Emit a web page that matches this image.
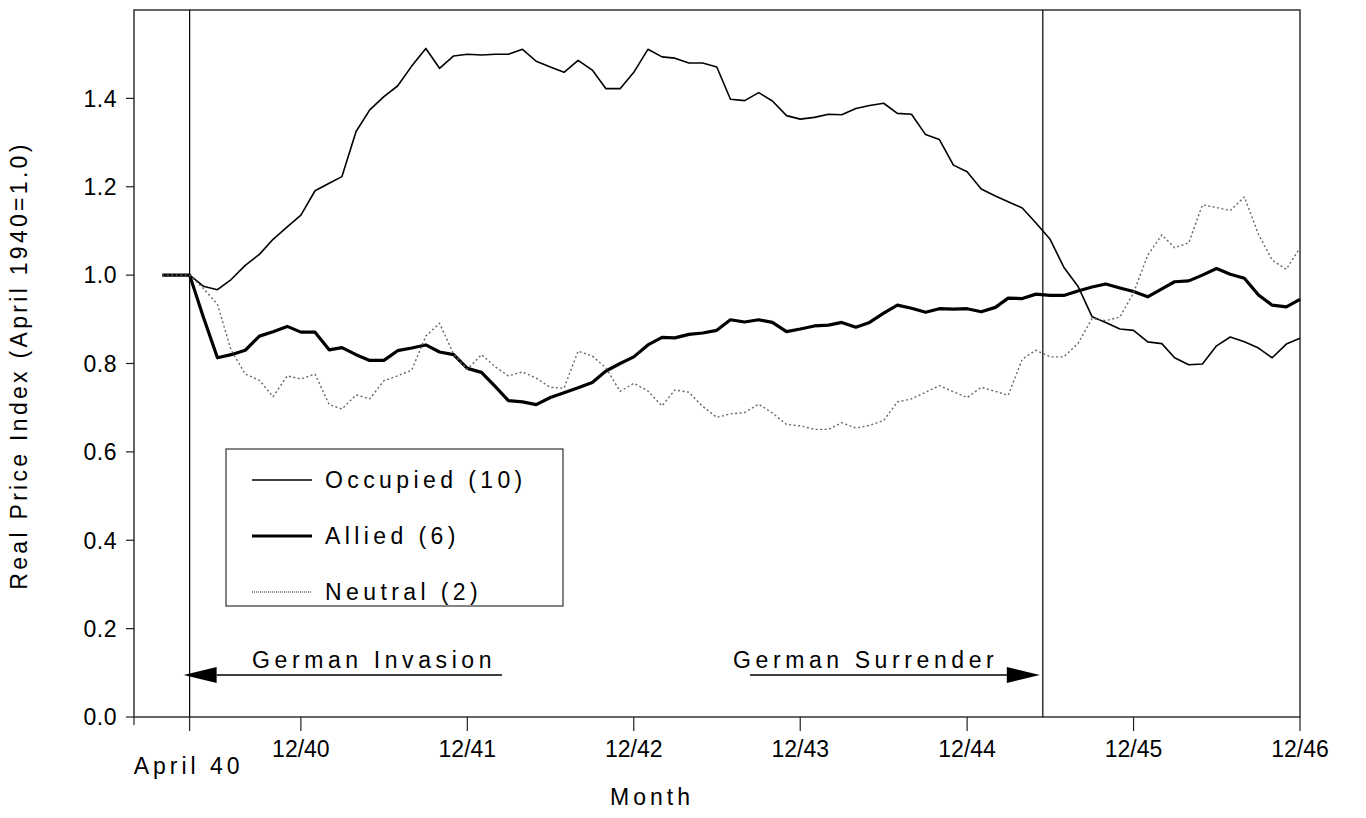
<!DOCTYPE html>
<html>
<head>
<meta charset="utf-8">
<script src="https://cdn.jsdelivr.net/npm/d3@7"></script>
<style>
  body { margin: 0; background: #fff; }
  svg { font-family: "Liberation Sans", Arial, sans-serif; }
</style>
</head>
<body>
<div id="chart"></div>
<script>
// Monthly index, Feb 1940 .. Dec 1946
const months = d3.timeMonths(new Date(1940, 1, 1), new Date(1947, 0, 1));

const occupied = [
  1.0, 1.0, 1.0, 0.975, 0.967, 0.99, 1.022, 1.047, 1.081, 1.109, 1.136,
  1.191, 1.208, 1.223, 1.325, 1.374, 1.404, 1.428, 1.473, 1.513, 1.468, 1.496, 1.5,
  1.498, 1.5, 1.5, 1.511, 1.484, 1.471, 1.459, 1.486, 1.464, 1.422, 1.422, 1.459,
  1.511, 1.494, 1.491, 1.48, 1.48, 1.471, 1.398, 1.395, 1.413, 1.394, 1.361, 1.353,
  1.357, 1.364, 1.363, 1.377, 1.384, 1.389, 1.366, 1.364, 1.318, 1.307, 1.249, 1.234,
  1.195, 1.179, 1.166, 1.152, 1.118, 1.081, 1.018, 0.975, 0.906, 0.893, 0.878, 0.875,
  0.849, 0.845, 0.813, 0.797, 0.799, 0.84, 0.86, 0.849, 0.835, 0.813, 0.844, 0.857,
];

const allied = [
  1.0, 1.0, 1.0, 0.905, 0.813, 0.82, 0.83, 0.862, 0.872, 0.884, 0.871,
  0.871, 0.831, 0.836, 0.82, 0.807, 0.807, 0.829, 0.835, 0.842, 0.826, 0.82, 0.789,
  0.78, 0.747, 0.716, 0.713, 0.707, 0.723, 0.734, 0.745, 0.757, 0.783, 0.8, 0.815,
  0.842, 0.859, 0.858, 0.866, 0.869, 0.875, 0.899, 0.894, 0.899, 0.893, 0.872, 0.878,
  0.885, 0.887, 0.893, 0.882, 0.893, 0.914, 0.932, 0.925, 0.916, 0.924, 0.923, 0.924,
  0.917, 0.927, 0.948, 0.947, 0.957, 0.954, 0.954, 0.964, 0.973, 0.98, 0.971, 0.963,
  0.951, 0.969, 0.985, 0.987, 1.0, 1.015, 1.002, 0.993, 0.955, 0.932, 0.928, 0.945,
];

const neutral = [
  1.0, 1.0, 1.0, 0.97, 0.934, 0.83, 0.776, 0.762, 0.725, 0.772, 0.765,
  0.776, 0.707, 0.697, 0.729, 0.72, 0.761, 0.772, 0.785, 0.862, 0.891, 0.821, 0.787,
  0.82, 0.792, 0.772, 0.781, 0.767, 0.746, 0.744, 0.828, 0.817, 0.79, 0.737, 0.755,
  0.738, 0.704, 0.74, 0.735, 0.703, 0.678, 0.686, 0.689, 0.708, 0.688, 0.662, 0.659,
  0.651, 0.651, 0.666, 0.654, 0.66, 0.671, 0.713, 0.72, 0.735, 0.75, 0.736, 0.723,
  0.746, 0.737, 0.728, 0.81, 0.83, 0.815, 0.815, 0.845, 0.902, 0.897, 0.905, 0.96,
  1.045, 1.091, 1.062, 1.073, 1.159, 1.153, 1.146, 1.177, 1.092, 1.034, 1.013, 1.062,
];

const yTicks = [0, 0.2, 0.4, 0.6, 0.8, 1.0, 1.2, 1.4];
const xTickDates = [1940, 1941, 1942, 1943, 1944, 1945, 1946].map((y) => new Date(y, 11, 1));
const xTickLabels = ["12/40", "12/41", "12/42", "12/43", "12/44", "12/45", "12/46"];
const invasionDate = new Date(1940, 3, 1);
const surrenderDate = new Date(1945, 4, 16);

const seriesNames = ["Occupied (10)", "Allied (6)", "Neutral (2)"];

const width = 1366;
const height = 818;
const margin = { top: 10, right: 66, bottom: 101, left: 134 };

const svg = d3
  .select("#chart")
  .append("svg")
  .attr("width", width)
  .attr("height", height);

const x = d3
  .scaleTime()
  .domain([new Date(1939, 11, 1), new Date(1946, 11, 1)])
  .range([margin.left, width - margin.right]);

const y = d3
  .scaleLinear()
  .domain([0, 1.6])
  .range([height - margin.bottom, margin.top]);

const x0 = x.range()[0];
const x1 = x.range()[1];
const yBottom = y(0);
const yTop = y(1.6);

// Plot frame
svg
  .append("rect")
  .attr("x", x0)
  .attr("y", yTop)
  .attr("width", x1 - x0)
  .attr("height", yBottom - yTop)
  .attr("fill", "none")
  .attr("stroke", "#333")
  .attr("stroke-width", 1.5);

// Y axis ticks + labels
svg
  .selectAll("line.ytick")
  .data(yTicks)
  .enter()
  .append("line")
  .attr("class", "ytick")
  .attr("x1", x0 - 8)
  .attr("x2", x0)
  .attr("y1", (d) => y(d))
  .attr("y2", (d) => y(d))
  .attr("stroke", "#222")
  .attr("stroke-width", 1.2);

svg
  .selectAll("text.ytick")
  .data(yTicks)
  .enter()
  .append("text")
  .attr("class", "ytick")
  .attr("x", x0 - 17)
  .attr("y", (d) => y(d))
  .attr("dy", "0.36em")
  .attr("text-anchor", "end")
  .attr("font-size", "23px")
  .attr("letter-spacing", "0.5px")
  .text((d) => d.toFixed(1));

// X axis ticks
svg
  .append("line")
  .attr("x1", x0)
  .attr("x2", x0)
  .attr("y1", yBottom)
  .attr("y2", yBottom + 8)
  .attr("stroke", "#222")
  .attr("stroke-width", 1.2);

svg
  .selectAll("line.xtick")
  .data([invasionDate].concat(xTickDates))
  .enter()
  .append("line")
  .attr("class", "xtick")
  .attr("x1", (d) => x(d))
  .attr("x2", (d) => x(d))
  .attr("y1", yBottom)
  .attr("y2", yBottom + 14)
  .attr("stroke", "#222")
  .attr("stroke-width", 1.2);

svg
  .selectAll("text.xtick")
  .data(xTickDates)
  .enter()
  .append("text")
  .attr("class", "xtick")
  .attr("x", (d) => x(d))
  .attr("y", yBottom + 40)
  .attr("text-anchor", "middle")
  .attr("font-size", "23px")
  .text((d, i) => xTickLabels[i]);

svg
  .append("text")
  .attr("x", x(invasionDate) - 1)
  .attr("y", yBottom + 57)
  .attr("text-anchor", "middle")
  .attr("font-size", "23px")
  .attr("letter-spacing", "4px")
  .text("April 40");

// Axis titles
svg
  .append("text")
  .attr("x", 652)
  .attr("y", height - 13)
  .attr("text-anchor", "middle")
  .attr("font-size", "23px")
  .attr("letter-spacing", "4px")
  .text("Month");

svg
  .append("text")
  .attr("transform", `translate(27, ${(yTop + yBottom) / 2 + 2}) rotate(-90)`)
  .attr("text-anchor", "middle")
  .attr("font-size", "23px")
  .attr("letter-spacing", "3.3px")
  .text("Real Price Index (April 1940=1.0)");

// Event lines
svg
  .selectAll("line.event")
  .data([invasionDate, surrenderDate])
  .enter()
  .append("line")
  .attr("class", "event")
  .attr("x1", (d) => x(d))
  .attr("x2", (d) => x(d))
  .attr("y1", yTop)
  .attr("y2", yBottom)
  .attr("stroke", "#000")
  .attr("stroke-width", 1.2);

// Series lines
const line = d3
  .line()
  .x((d, i) => x(months[i]))
  .y((d) => y(d));

const styles = [
  { data: occupied, width: 1.6, color: "#000", dash: null },
  { data: allied, width: 3.2, color: "#000", dash: null },
  { data: neutral, width: 1.4, color: "#666", dash: "2,2.5" },
];

styles.forEach((s) => {
  svg
    .append("path")
    .datum(s.data)
    .attr("fill", "none")
    .attr("stroke", s.color)
    .attr("stroke-width", s.width)
    .attr("stroke-dasharray", s.dash)
    .attr("stroke-linejoin", "round")
    .attr("d", line);
});

// Legend
const legend = svg.append("g").attr("transform", "translate(226, 449)");

legend
  .append("rect")
  .attr("width", 337)
  .attr("height", 157)
  .attr("fill", "#fff")
  .attr("stroke", "#333")
  .attr("stroke-width", 1.2);

styles.forEach((s, i) => {
  const ly = 31 + i * 56;
  legend
    .append("line")
    .attr("x1", 26)
    .attr("x2", 86)
    .attr("y1", ly)
    .attr("y2", ly)
    .attr("stroke", s.color)
    .attr("stroke-width", s.width)
    .attr("stroke-dasharray", s.dash ? "1,1" : null);
  legend
    .append("text")
    .attr("x", 99)
    .attr("y", ly + 8)
    .attr("font-size", "23px")
    .attr("letter-spacing", "4.4px")
    .text(seriesNames[i]);
});

// Annotations with arrows
const arrowY = 675;

function arrow(fromX, tipX) {
  const dir = tipX > fromX ? 1 : -1;
  const baseX = tipX - dir * 33;
  svg
    .append("line")
    .attr("x1", fromX)
    .attr("x2", baseX)
    .attr("y1", arrowY)
    .attr("y2", arrowY)
    .attr("stroke", "#000")
    .attr("stroke-width", 1.5);
  svg
    .append("path")
    .attr("d", `M${tipX},${arrowY} L${baseX},${arrowY - 8} L${baseX},${arrowY + 8} Z`)
    .attr("fill", "#000");
}

arrow(502, x(invasionDate) - 6);
arrow(750, x(surrenderDate) - 3);

svg
  .append("text")
  .attr("x", 252)
  .attr("y", 668)
  .attr("font-size", "23px")
  .attr("letter-spacing", "4.6px")
  .text("German Invasion");

svg
  .append("text")
  .attr("x", 733)
  .attr("y", 668)
  .attr("font-size", "23px")
  .attr("letter-spacing", "4.6px")
  .text("German Surrender");
</script>
</body>
</html>
